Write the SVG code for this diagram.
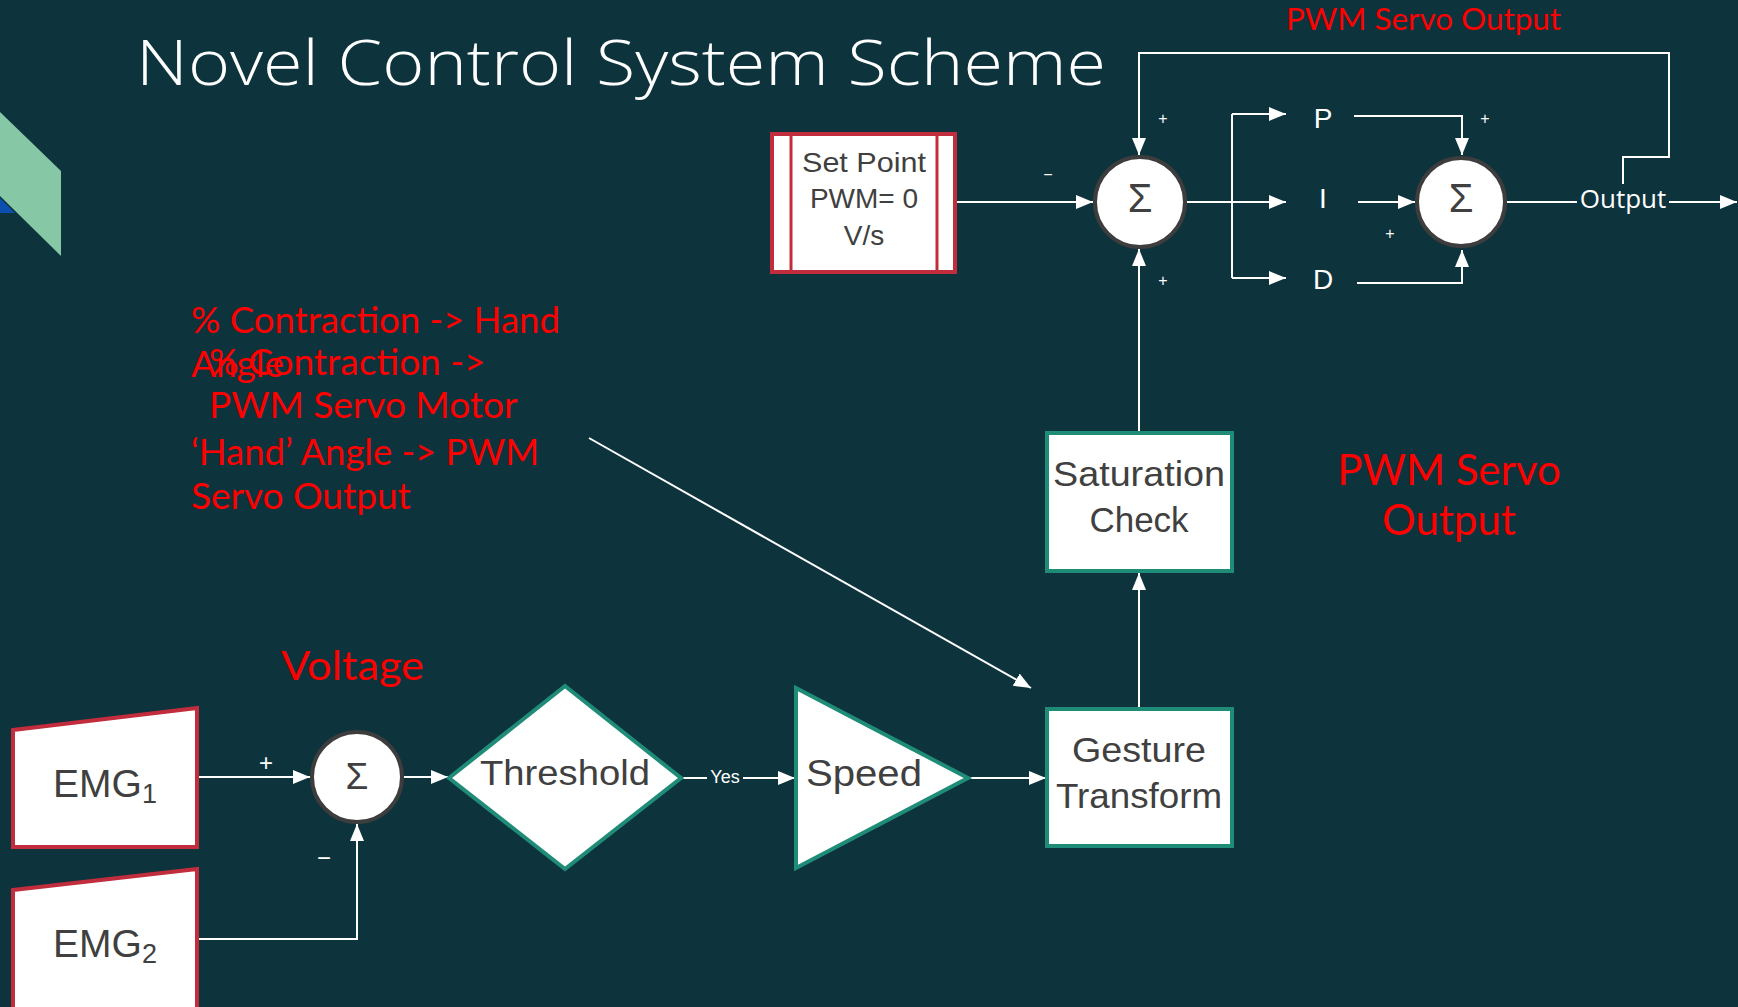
<svg xmlns="http://www.w3.org/2000/svg" width="1738" height="1007" viewBox="0 0 1738 1007">
  <defs>
    <marker id="arrow" markerUnits="userSpaceOnUse" markerWidth="18" markerHeight="14" refX="17" refY="7" orient="auto">
      <path d="M0,0 L17,7 L0,14 z" fill="#ffffff"/>
    </marker>
    <style>
      .bg { fill: #0d333d; }
      .wire { fill: none; stroke: #ffffff; stroke-width: 2; }
      .arr { marker-end: url(#arrow); }
      .node-red { fill: #ffffff; stroke: #c12d3d; stroke-width: 4; }
      .node-teal { fill: #ffffff; stroke: #1f8c77; stroke-width: 4; }
      .sum { fill: #ffffff; stroke: #3d3d3d; stroke-width: 4; }
      .lbl { font-family: "Liberation Sans", Arial, sans-serif; fill: #404040; text-anchor: middle; }
      .wlbl { font-family: "Liberation Sans", Arial, sans-serif; fill: #ffffff; text-anchor: middle; }
      .sign { font-family: "Liberation Sans", Arial, sans-serif; fill: #ffffff; text-anchor: middle; font-size: 16px; }
      .note { font-family: Lato, "Liberation Sans", sans-serif; fill: #ff0000; }
    </style>
  </defs>

  <rect class="bg" x="0" y="0" width="1738" height="1007"/>

  <!-- corner decoration -->
  <polygon points="0,112 61,171 61,256 0,196" fill="#86c8a5"/>
  <polygon points="0,198 15,213 0,213" fill="#0b4fb0"/>

  <!-- title -->
  <text x="136" y="85" font-family="'Open Sans', 'Liberation Sans', sans-serif" font-weight="300" font-size="62" fill="#ffffff" textLength="970" lengthAdjust="spacingAndGlyphs">Novel Control System Scheme</text>

  <!-- connectors -->
  <g id="connectors">
    <path class="wire arr" d="M956,202 H1093"/>
    <path class="wire" d="M1186,202 H1232"/>
    <path class="wire" d="M1232,114 V278"/>
    <path class="wire arr" d="M1232,114 H1286"/>
    <path class="wire arr" d="M1232,202 H1286"/>
    <path class="wire arr" d="M1232,278 H1286"/>
    <path class="wire arr" d="M1354,116 H1462 V155"/>
    <path class="wire arr" d="M1358,202 H1415"/>
    <path class="wire arr" d="M1357,283 H1462 V250"/>
    <path class="wire" d="M1507,202 H1577"/>
    <path class="wire arr" d="M1669,202 H1737"/>
    <path class="wire arr" d="M1623,184 V157 H1669 V53 H1139 V155"/>
    <path class="wire arr" d="M1139,433 V249"/>
    <path class="wire arr" d="M1139,709 V573"/>
    <path class="wire arr" d="M968,778 H1046"/>
    <path class="wire arr" d="M589,438 L1031,688"/>
    <path class="wire" d="M681,778 H707"/>
    <path class="wire arr" d="M743,778 H795"/>
    <path class="wire arr" d="M404,777 H448"/>
    <path class="wire arr" d="M198,777 H310"/>
    <path class="wire arr" d="M198,939 H357 V824"/>

    <text class="wlbl" x="725" y="783" font-size="18">Yes</text>
    <text x="1623" y="208" font-family="'Open Sans', 'Liberation Sans', sans-serif" font-size="26" fill="#ffffff" text-anchor="middle">Output</text>

    <text class="sign" x="1048" y="180">−</text>
    <text class="sign" x="1163" y="124">+</text>
    <text class="sign" x="1163" y="286">+</text>
    <text class="sign" x="1485" y="124">+</text>
    <text class="sign" x="1390" y="239">+</text>
    <text class="wlbl" x="266" y="771" font-size="24">+</text>
    <text class="wlbl" x="324" y="866" font-size="24">−</text>
  </g>

  <!-- set point -->
  <g id="set-point">
    <rect class="node-red" x="772" y="134" width="183" height="138"/>
    <line x1="791" y1="134" x2="791" y2="272" stroke="#c12d3d" stroke-width="3"/>
    <line x1="937" y1="134" x2="937" y2="272" stroke="#c12d3d" stroke-width="3"/>
    <text class="lbl" x="864" y="172" font-size="28" textLength="124" lengthAdjust="spacingAndGlyphs">Set Point</text>
    <text class="lbl" x="864" y="208" font-size="28">PWM= 0</text>
    <text class="lbl" x="864" y="245" font-size="28">V/s</text>
  </g>

  <!-- summing junctions -->
  <g id="sum-error">
    <circle class="sum" cx="1140" cy="202" r="45"/>
    <text class="lbl" x="1140" y="212" font-size="40">Σ</text>
  </g>
  <g id="sum-pid">
    <circle class="sum" cx="1461" cy="202" r="44"/>
    <text class="lbl" x="1461" y="212" font-size="40">Σ</text>
  </g>
  <g id="sum-emg">
    <circle class="sum" cx="357" cy="777" r="45"/>
    <text class="lbl" x="357" y="789" font-size="37">Σ</text>
  </g>

  <!-- PID terms -->
  <g id="term-p"><text class="wlbl" x="1323" y="128" font-size="28">P</text></g>
  <g id="term-i"><text class="wlbl" x="1323" y="208" font-size="28">I</text></g>
  <g id="term-d"><text class="wlbl" x="1323" y="289" font-size="28">D</text></g>

  <!-- processing chain -->
  <g id="saturation-check">
    <rect class="node-teal" x="1047" y="433" width="185" height="138"/>
    <text class="lbl" x="1139" y="486" font-size="35" textLength="172" lengthAdjust="spacingAndGlyphs">Saturation</text>
    <text class="lbl" x="1139" y="532" font-size="35">Check</text>
  </g>
  <g id="gesture-transform">
    <rect class="node-teal" x="1047" y="709" width="185" height="137"/>
    <text class="lbl" x="1139" y="762" font-size="35" textLength="134" lengthAdjust="spacingAndGlyphs">Gesture</text>
    <text class="lbl" x="1139" y="808" font-size="35" textLength="166" lengthAdjust="spacingAndGlyphs">Transform</text>
  </g>
  <g id="speed">
    <polygon class="node-teal" points="796,688 968,778 796,868" stroke-width="3"/>
    <text class="lbl" x="864" y="786" font-size="37" textLength="116" lengthAdjust="spacingAndGlyphs">Speed</text>
  </g>
  <g id="threshold">
    <polygon class="node-teal" points="565,686 681,778 565,869 449,778"/>
    <text class="lbl" x="565" y="785" font-size="35" textLength="170" lengthAdjust="spacingAndGlyphs">Threshold</text>
  </g>

  <!-- EMG inputs -->
  <g id="emg1">
    <polygon class="node-red" points="13,730 197,708 197,847 13,847"/>
    <text class="lbl" x="105" y="797" font-size="39">EMG<tspan font-size="27" dy="6">1</tspan></text>
  </g>
  <g id="emg2">
    <polygon class="node-red" points="13,890 197,869 197,1010 13,1010"/>
    <text class="lbl" x="105" y="957" font-size="39">EMG<tspan font-size="27" dy="6">2</tspan></text>
  </g>

  <!-- annotations -->
  <g id="annotations">
    <text class="note" x="1286" y="30" font-size="30" textLength="275" lengthAdjust="spacingAndGlyphs">PWM Servo Output</text>
    <text class="note" x="1449" y="485" font-size="42" text-anchor="middle">PWM Servo</text>
    <text class="note" x="1449" y="535" font-size="42" text-anchor="middle">Output</text>
    <text class="note" x="281" y="680" font-size="40" textLength="143" lengthAdjust="spacingAndGlyphs">Voltage</text>
    <text class="note" x="191" y="333" font-size="37" textLength="369" lengthAdjust="spacingAndGlyphs">% Contraction -&gt; Hand</text>
    <text class="note" x="191" y="377" font-size="37">Angle</text>
    <text class="note" x="209" y="375" font-size="37">% Contraction -&gt;</text>
    <text class="note" x="209" y="418" font-size="37">PWM Servo Motor</text>
    <text class="note" x="191" y="465" font-size="37" textLength="348" lengthAdjust="spacingAndGlyphs">‘Hand’ Angle -&gt; PWM</text>
    <text class="note" x="191" y="509" font-size="37">Servo Output</text>
  </g>
</svg>
